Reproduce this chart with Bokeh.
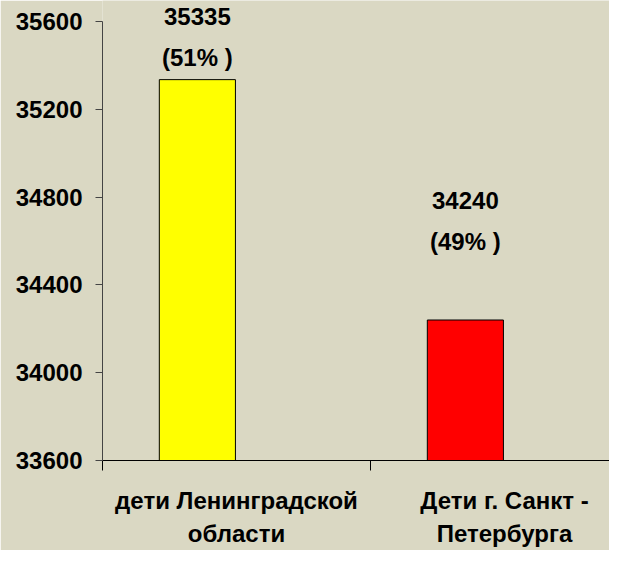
from bokeh.plotting import figure
from bokeh.models import ColumnDataSource, FixedTicker, LabelSet, Range1d
from bokeh.core.properties import value
from bokeh.embed import file_html
from bokeh.resources import INLINE

categories = ["дети Ленинградской\nобласти", "Дети г. Санкт -\nПетербурга"]
values = [35335, 34240]
percents = [51, 49]
colors = ["#FFFF00", "#FF0000"]
y_ticks = [33600, 34000, 34400, 34800, 35200, 35600]
y_min, y_max = 33600, 35600

FONT = "Liberation Sans"
BG = "#DAD8C3"

cat_pos = [i + 0.5 for i in range(len(values))]
bar_x = [c - 0.146 for c in cat_pos]
src = ColumnDataSource(dict(
    x=bar_x, top=values, color=colors,
    num=[str(v) for v in values],
    pct=[f"({p}% )" for p in percents],
    off_num=[63, 120],
    off_pct=[22, 79],
))

# frame: 461 px tall, y_max sits 21 px below the frame top
px_per_unit = 440 / (y_max - y_min)
p = figure(width=609, height=550, output_backend="svg", toolbar_location=None,
           x_range=Range1d(0, 507 / 268),
           y_range=Range1d(y_min, y_max + 21 / px_per_unit),
           min_border_left=102, min_border_right=0, min_border_top=0, min_border_bottom=89)
p.background_fill_color = BG
p.border_fill_color = BG
p.outline_line_color = None
p.grid.visible = False

p.vbar(x="x", width=0.284, bottom=y_min, top="top", color="color", source=src,
       line_color="#000000", line_width=1)

for col, off in (("num", "off_num"), ("pct", "off_pct")):
    p.add_layout(LabelSet(x="x", y="top", text=col, y_offset=off, source=src,
                          text_align="center", text_baseline="middle",
                          text_font=value(FONT), text_font_style="bold",
                          text_font_size=value("24px"), text_color="#000000"))

# y axis
ya = p.yaxis[0]
ya.ticker = FixedTicker(ticks=y_ticks)
ya.bounds = (y_min, y_max)
ya.major_tick_out = 7
ya.major_tick_in = 0
ya.minor_tick_line_color = None
ya.axis_line_color = "#444444"
ya.major_tick_line_color = "#444444"
ya.major_label_text_font = FONT
ya.major_label_text_font_style = "bold"
ya.major_label_text_font_size = "24px"
ya.major_label_text_color = "#000000"
ya.major_label_standoff = 13

# x axis: labels at category centres, ticks at category boundaries
xa = p.xaxis[0]
xa.ticker = FixedTicker(ticks=cat_pos, minor_ticks=[0, 1, 2])
xa.major_label_overrides = {c: lab for c, lab in zip(cat_pos, categories)}
xa.major_tick_out = 0
xa.major_tick_in = 0
xa.major_tick_line_color = None
xa.minor_tick_out = 10
xa.minor_tick_in = 0
xa.minor_tick_line_color = "#000000"
xa.axis_line_color = "#000000"
xa.major_label_text_font = FONT
xa.major_label_text_font_style = "bold"
xa.major_label_text_font_size = "24px"
xa.major_label_text_color = "#000000"
xa.major_label_text_line_height = 1.25
xa.major_label_standoff = 16

open("out.html", "w").write(file_html(p, INLINE))
